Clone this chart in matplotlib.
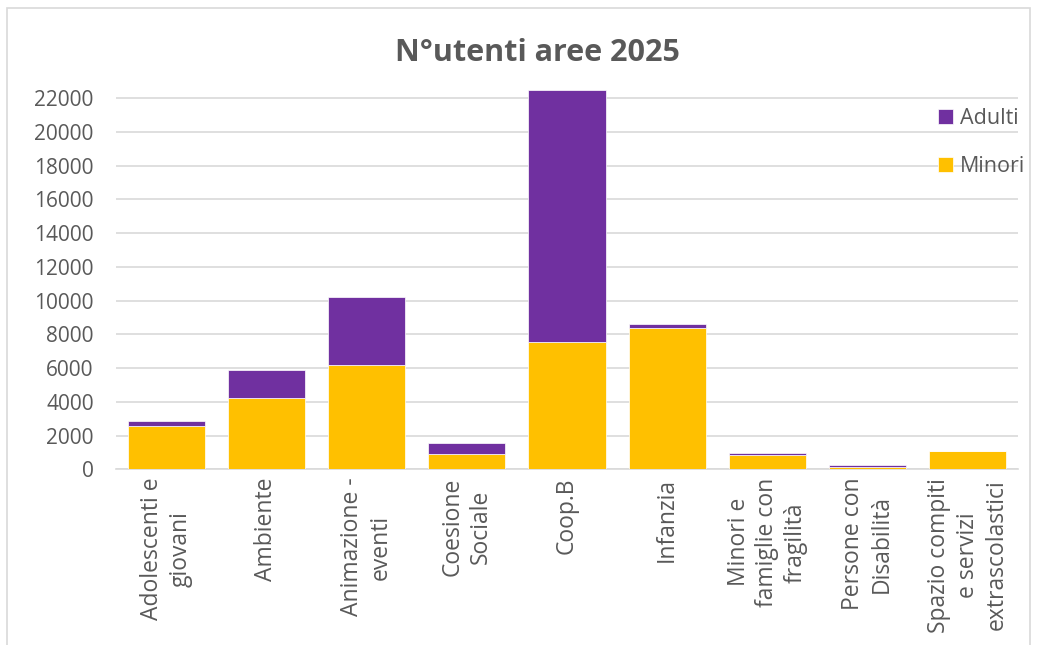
import numpy as np
import matplotlib
matplotlib.use('Agg')
import matplotlib.pyplot as plt
from matplotlib.patches import Rectangle

# dati
aree = ['Adolescenti e\ngiovani', 'Ambiente', 'Animazione -\neventi', 'Coesione\nSociale',
        'Coop.B', 'Infanzia', 'Minori e\nfamiglie con\nfragilità', 'Persone con\nDisabilità',
        'Spazio compiti\ne servizi\nextrascolastici']
minori = [2590, 4230, 6190, 910, 7570, 8360, 830, 150, 1100]
adulti = [270, 1660, 4020, 650, 14920, 270, 140, 90, 10]
yticks = list(range(0, 22001, 2000))

grigio = '#595959'
plt.rcParams['font.family'] = ['Open Sans', 'DejaVu Sans']

fig = plt.figure(figsize=(10.37, 6.45), dpi=100)
ax = fig.add_axes([116/1037, 175.7/645, 902/1037, 381.1/645])

x = np.arange(len(aree))
b1 = ax.bar(x, minori, width=0.77, color='#FFC000', edgecolor='white', linewidth=0.5, zorder=3, label='Minori')
b2 = ax.bar(x, adulti, width=0.77, bottom=minori, color='#7030A0', edgecolor='white', linewidth=0.5,
            zorder=3, label='Adulti')

ax.set_xlim(-0.5, len(aree) - 0.5)
ax.set_ylim(0, 22600)
ax.set_yticks(yticks)
ax.set_xticks(x)
ax.set_xticklabels(aree, rotation=90, ha='center', va='top', multialignment='center', linespacing=1.25)
ax.tick_params(axis='both', length=0, labelcolor=grigio)
ax.tick_params(axis='y', pad=16, labelsize=15)
ax.tick_params(axis='x', pad=6, labelsize=16.5)
ax.grid(axis='y', color='#D9D9D9', linewidth=1.2, zorder=0)
for s in ['top', 'right', 'left']:
    ax.spines[s].set_visible(False)
ax.spines['bottom'].set_color('#D9D9D9')
ax.spines['bottom'].set_linewidth(1.2)

fig.text(537/1037, 1 - 53/645, 'N°utenti aree 2025', ha='center', va='center',
         fontsize=22, fontweight='bold', color=grigio)

leg = ax.legend([b2, b1], ['Adulti', 'Minori'], loc='upper left', frameon=False,
                bbox_to_anchor=(938/1037, 1 - 108/645), bbox_transform=fig.transFigure,
                fontsize=15.5, labelcolor=grigio, handlelength=0.7, handleheight=0.7,
                handletextpad=0.3, labelspacing=1.25, borderpad=0, borderaxespad=0)

# bordo del grafico
fig.patches.append(Rectangle((7/1037, -0.05), 1023/1037, 1.05 - 8/645, transform=fig.transFigure,
                             fill=False, edgecolor='#D9D9D9', linewidth=1.2))

fig.savefig('out.png', dpi=100)
